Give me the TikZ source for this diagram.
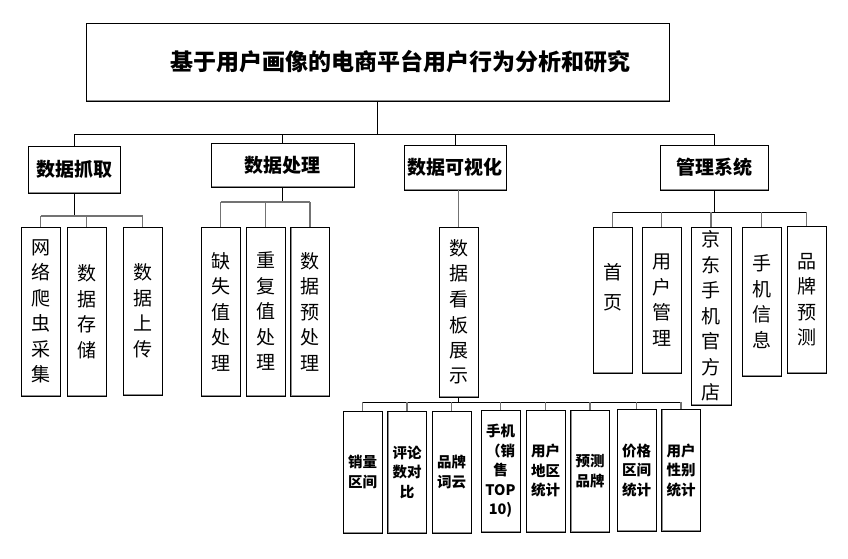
\documentclass[tikz,border=0pt]{standalone}
\usepackage{fontspec}
\setmainfont{Noto Sans CJK SC}
\begin{document}
\begin{tikzpicture}[x=1pt,y=-1pt,
  box/.style={draw=black, line width=0.8pt, fill=white, inner sep=0pt, align=center,
    path picture={\draw[black!45, line width=2.4pt]
      (path picture bounding box.north west) -- (path picture bounding box.south west)
      -- (path picture bounding box.south east);}},
  lvtwo/.style={box, font=\fontsize{19}{24}\selectfont\bfseries},
  vbox/.style={box, minimum width=39pt, font=\fontsize{19}{25.5}\selectfont},
  sbox/.style={box, minimum width=39pt, minimum height=122pt, font=\fontsize{14.5}{19.5}\selectfont\bfseries},
  txt/.style={inner sep=0pt, align=center, font=\fontsize{19}{30}\selectfont},
  bus/.style={draw=black, line width=0.9pt},
  drop/.style={draw=black!55, line width=1.1pt}
]
\useasboundingbox (0,0) rectangle (848,558);

% title
\node[box, minimum width=583pt, minimum height=78pt,
  font=\fontsize{23}{28}\selectfont\bfseries] (title) at (377.5,62)
  {\hspace*{46pt}基于用户画像的电商平台用户行为分析和研究};

% level 2
\node[lvtwo, minimum width=92pt, minimum height=47pt] (zhuaqu) at (74,169.5) {数据抓取};
\node[lvtwo, minimum width=143pt, minimum height=44pt] (chuli) at (282.5,165) {数据处理};
\node[lvtwo, minimum width=102pt, minimum height=45pt] (keshi) at (455,167.5) {数据可视化};
\node[lvtwo, minimum width=108pt, minimum height=45pt] (guanli) at (714,167.5) {管理系统};

\coordinate (b1) at (0,134);
\draw[bus] (zhuaqu.north |- b1) -- (guanli.north |- b1);
\draw[bus] (title.south) -- (title.south |- b1);
\foreach \n in {zhuaqu,chuli,keshi,guanli} \draw[bus] (\n.north) -- (\n.north |- b1);

% under 数据抓取
\node[vbox, minimum height=169pt] (wl) at (40.5,311.5) {网\\络\\爬\\虫\\采\\集};
\node[vbox, minimum height=169pt] (cc) at (86.5,311.5) {数\\据\\存\\储};
\node[vbox, minimum height=168pt] (sc) at (142.5,311) {数\\据\\上\\传};
\coordinate (b2) at (0,216);
\draw[bus] (zhuaqu.south) -- (zhuaqu.south |- b2);
\draw[drop] (wl.north |- b2) -- (sc.north |- b2);
\foreach \n in {wl,cc,sc} \draw[drop] (\n.north) -- (\n.north |- b2);

% under 数据处理
\node[vbox, minimum height=169pt] (qs) at (220.5,311.5) {缺\\失\\值\\处\\理};
\node[vbox, minimum height=169pt] (cf) at (265.5,311.5) {重\\复\\值\\处\\理};
\node[vbox, minimum height=169pt] (yc) at (310,311.5) {数\\据\\预\\处\\理};
\coordinate (b3) at (0,202);
\draw[bus] (chuli.south) -- (chuli.south |- b3);
\draw[drop] (qs.north |- b3) -- (yc.north |- b3);
\foreach \n in {qs,cf,yc} \draw[drop] (\n.north) -- (\n.north |- b3);

% under 数据可视化
\node[vbox, minimum height=170pt] (kb) at (458.5,312) {数\\据\\看\\板\\展\\示};
\draw[drop] (kb.north |- keshi.south) -- (kb.north);

\node[sbox] (s1) at (362.5,472) {销量\\区间};
\node[sbox] (s2) at (407,472) {评论\\数对\\比};
\node[sbox] (s3) at (451.5,472) {品牌\\词云};
\node[sbox] (s4) at (500.5,471) {手机\\（销\\售\\TOP\\10)};
\node[sbox] (s5) at (545.5,471) {用户\\地区\\统计};
\node[sbox] (s6) at (590,471) {预测\\品牌};
\node[sbox] (s7) at (636.5,470.5) {价格\\区间\\统计};
\node[sbox] (s8) at (681,470.5) {用户\\性别\\统计};
\coordinate (b4) at (0,402);
\draw[bus] (kb.south) -- (kb.south |- b4);
\draw[bus] (s1.north |- b4) -- (s8.north |- b4);
\foreach \n in {s1,s2,s3,s4,s5,s6,s7,s8} \draw[drop] (\n.north) -- (\n.north |- b4);

% under 管理系统
\node[vbox, minimum height=146pt] (sy) at (612.5,300) {};
\node[txt] (syt) at (612.5,287) {首\\页};
\node[vbox, minimum height=146pt] (yh) at (661.5,300) {用\\户\\管\\理};
\node[vbox, minimum width=40pt, minimum height=178pt] (jd) at (711,316) {京\\东\\手\\机\\官\\方\\店};
\node[vbox, minimum height=149pt] (sj) at (761.5,301.5) {手\\机\\信\\息};
\node[vbox, minimum height=147pt] (pp) at (806.5,299.5) {品\\牌\\预\\测};
\coordinate (b5) at (0,212);
\draw[bus] (guanli.south) -- (guanli.south |- b5);
\draw[bus] (sy.north |- b5) -- (pp.north |- b5);
\foreach \n in {sy,yh,jd,sj,pp} \draw[drop] (\n.north) -- (\n.north |- b5);
\end{tikzpicture}
\end{document}
